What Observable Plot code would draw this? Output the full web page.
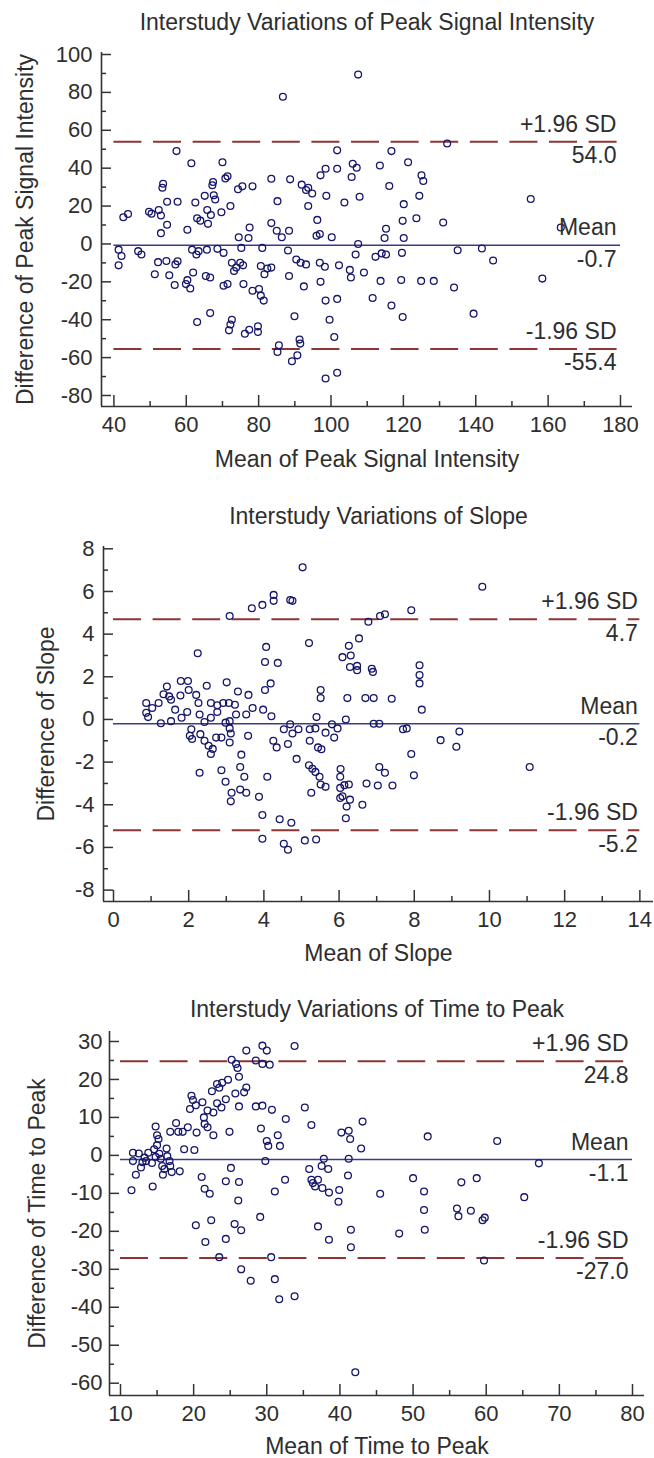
<!DOCTYPE html>
<html><head><meta charset="utf-8">
<script src="https://cdn.jsdelivr.net/npm/d3@7"></script>
<script src="https://cdn.jsdelivr.net/npm/@observablehq/plot@0.6"></script>
<style>
body{margin:0;background:#fff;}
#wrap{position:relative;width:654px;height:1458px;background:#fff;overflow:hidden;}
#wrap svg{position:absolute;left:0;}
</style></head><body><div id="wrap"></div>
<script>
// ---------- Panel 1: Peak Signal Intensity  [mean, difference] ----------
const psiTitle = "Interstudy Variations of Peak Signal Intensity";
const psiXLabel = "Mean of Peak Signal Intensity";
const psiYLabel = "Difference of Peak Signal Intensity";
const psiStats = [54.0, -0.7, -55.4];
const psiXTicks = [40, 60, 80, 100, 120, 140, 160, 180];
const psiYTicks = [-80, -60, -40, -20, 0, 20, 40, 60, 80, 100];
const psiPoints = [
[86.7,77.7],[107.5,89.4],[57.3,49.0],[101.7,49.4],[116.7,49.0],[132.1,53.0],
[61.4,42.6],[70.0,43.1],[121.3,43.1],[106.0,42.3],[107.1,40.2],[98.5,39.7],[101.7,39.7],[113.5,41.4],
[97.1,36.2],[105.7,35.3],[125.0,36.2],[125.5,33.2],[116.1,30.6],[83.5,34.4],[88.7,34.1],[91.9,31.3],
[93.7,29.7],[93.1,28.5],[94.8,26.6],[53.6,31.8],[53.4,29.7],[67.4,32.7],[67.2,31.0],[71.4,35.7],
[70.8,34.6],[75.5,30.4],[74.3,28.9],[78.3,30.4],[65.1,25.4],[67.6,25.7],[68.0,23.5],[98.7,25.4],
[107.9,24.9],[124.4,25.4],[155.2,23.7],[93.7,20.0],[103.7,21.9],[85.2,22.6],[120.1,21.0],[54.7,22.3],
[57.6,22.3],[62.5,21.9],[72.2,20.0],[49.7,17.0],[52.4,17.9],[53.0,15.0],[50.4,16.0],[43.9,15.8],
[42.6,14.1],[65.8,17.9],[66.8,15.3],[69.7,16.7],[63.0,13.6],[63.9,12.3],[66.0,10.6],[54.7,10.1],
[53.0,5.7],[60.3,7.5],[96.2,12.7],[131.0,11.3],[119.8,12.2],[123.6,13.6],[83.5,11.0],[85.0,7.0],
[88.4,7.0],[77.5,8.7],[115.2,8.0],[96.0,4.3],[96.9,5.2],[100.2,3.5],[74.5,3.5],[77.2,3.1],[86.4,3.5],
[114.8,3.1],[120.1,3.1],[163.5,8.7],[107.5,0.0],
[41.3,-3.0],[42.1,-6.4],[41.3,-11.3],[46.7,-3.8],[47.6,-5.6],[52.2,-9.6],[54.5,-9.0],[51.3,-16.0],
[55.3,-16.5],[57.0,-10.8],[57.6,-9.1],[56.8,-21.7],[59.9,-21.2],[61.1,-23.5],[60.3,-19.1],[61.9,-15.1],
[61.6,-3.0],[62.8,-5.6],[63.4,-3.8],[65.7,-3.0],[68.6,-2.6],[65.4,-16.9],[66.6,-17.7],[70.3,-4.7],
[70.3,-22.1],[71.4,-21.2],[72.6,-9.9],[73.2,-14.3],[73.8,-12.5],[75.2,-2.1],[75.7,-11.3],[74.9,-9.9],
[75.8,-21.2],[78.3,-24.7],[80.1,-23.8],[80.6,-27.3],[81.4,-29.9],[81.0,-2.1],[80.6,-11.7],[82.4,-13.0],
[81.6,-16.0],[83.5,-12.5],[88.1,-3.5],[88.4,-16.9],[90.4,-8.2],[91.6,-9.9],[93.1,-10.8],[92.5,-22.4],
[96.9,-9.9],[98.3,-12.0],[97.1,-20.0],[102.2,-11.3],[105.2,-13.7],[105.5,-17.7],[109.1,-15.1],[106.8,-5.6],
[98.5,-29.9],[101.7,-29.0],[111.5,-28.5],[116.7,-32.5],[112.3,-6.8],[114.0,-5.0],[115.2,-5.6],[119.6,-4.7],
[113.7,-19.5],[119.4,-19.0],[124.9,-19.5],[128.4,-19.5],[134.0,-23.0],[135.0,-3.3],[141.7,-2.4],[144.8,-8.7],
[158.4,-18.3],
[119.8,-38.6],[139.4,-36.8],[63.0,-41.2],[66.6,-36.5],[72.6,-40.0],[71.8,-45.6],[72.2,-42.5],[76.2,-47.4],
[77.4,-45.3],[79.8,-43.5],[79.8,-46.5],[89.9,-38.2],[99.6,-40.0],[100.9,-49.1],[91.3,-50.5],[91.5,-52.6],
[85.6,-53.5],[85.2,-57.0],[89.2,-61.9],[90.7,-58.8],[98.5,-71.0],[101.7,-68.0]
];

// ---------- Panel 2: Slope ----------
const slTitle = "Interstudy Variations of Slope";
const slXLabel = "Mean of Slope";
const slYLabel = "Difference of Slope";
const slStats = [4.7, -0.2, -5.2];
const slXTicks = [0, 2, 4, 6, 8, 10, 12, 14];
const slYTicks = [-8, -6, -4, -2, 0, 2, 4, 6, 8];
const slPoints = [
[5.03,7.13],[9.81,6.22],[3.09,4.85],[3.68,5.21],[3.96,5.37],[4.26,5.84],[4.26,5.56],[4.70,5.60],[4.76,5.56],
[7.92,5.12],[6.78,4.58],[7.09,4.85],[7.22,4.93],
[2.24,3.10],[4.06,3.40],[5.20,3.58],[6.26,3.45],[6.53,3.80],[6.09,2.92],[6.31,3.00],[4.03,2.69],[4.37,2.65],
[6.29,2.46],[6.48,2.51],[6.48,2.31],[6.87,2.38],[6.90,2.23],[8.14,2.54],[8.14,2.08],[8.14,1.69],[8.20,0.46],
[6.22,1.00],[6.70,1.00],[6.92,1.00],[7.40,0.97],[5.51,1.38],[5.51,1.00],[6.18,0.00],[5.40,0.11],[6.92,-0.20],
[7.07,-0.20],[7.70,-0.46],[7.80,-0.42],[8.70,-0.97],[9.20,-0.57],[9.12,-1.28],[7.92,-1.62],[7.99,-2.62],
[11.07,-2.23],[7.07,-2.23],[7.22,-2.50],
[0.87,0.31],[0.92,0.11],[0.87,0.77],[1.03,0.54],[1.20,0.77],[1.42,1.54],[1.33,1.18],[1.48,1.08],[1.53,0.92],
[1.26,-0.18],[1.53,-0.08],[1.78,1.12],[1.64,0.46],[1.79,1.80],[1.98,1.80],[2.00,1.38],[1.81,0.08],[1.96,0.35],
[2.20,1.15],[2.26,0.77],[2.48,1.58],[2.29,0.23],[2.42,-0.12],[2.07,-0.46],[2.03,-0.77],[2.09,-0.92],[2.31,-0.69],
[2.42,-1.00],[2.53,-1.23],[2.59,-1.62],[2.64,-1.38],[2.73,-0.85],[2.87,-0.85],[2.59,0.77],[2.76,0.66],[2.92,0.77],
[3.07,0.77],[3.23,0.69],[2.59,0.08],[2.76,0.35],[3.01,1.74],[2.98,-0.15],[3.09,-0.08],[3.09,-0.42],[3.12,-0.66],
[3.09,-1.08],[3.26,0.23],[3.31,1.31],[3.59,1.15],[3.58,-0.77],[3.40,-1.65],[3.37,-2.23],[3.48,-2.69],[2.87,-2.38],
[2.29,-2.50],[2.98,-2.92],[3.53,0.23],[3.70,0.54],[3.98,0.46],[4.20,0.15],[4.18,1.69],[4.03,1.38],[4.25,-1.00],
[4.34,-1.31],[4.09,-2.69],[4.53,-0.46],[4.70,-0.23],[4.76,-0.66],[4.64,-1.15],[4.87,-1.85],[4.92,-0.46],[5.22,-0.46],
[5.22,-1.00],[5.37,-0.42],[5.20,-2.15],[5.29,-2.31],[5.37,-2.46],[5.48,-2.69],[5.44,-1.31],[5.53,-1.40],[5.64,-0.62],
[5.81,-0.23],[5.87,-0.85],[5.96,-0.42],[6.04,-2.32],[6.03,-2.69],[5.51,-3.05],[6.14,-3.08],[6.73,-3.00],[7.03,-3.10],
[7.42,-3.10],
[3.14,-3.44],[3.12,-3.84],[3.37,-3.29],[3.53,-3.44],[3.87,-3.63],[3.96,-4.48],[3.96,-5.59],[4.42,-4.68],[4.73,-4.84],
[4.53,-5.83],[4.64,-6.11],[5.09,-5.67],[5.39,-5.63],[5.26,-3.44],[5.64,-3.16],[6.03,-3.21],[6.09,-3.60],[6.03,-3.68],
[6.26,-3.05],[6.29,-3.76],[6.20,-4.08],[6.18,-4.63],[6.62,-4.00]
];

// ---------- Panel 3: Time to Peak ----------
const ttpTitle = "Interstudy Variations of Time to Peak";
const ttpXLabel = "Mean of Time to Peak";
const ttpYLabel = "Difference of Time to Peak";
const ttpStats = [24.8, -1.1, -27.0];
const ttpXTicks = [10, 20, 30, 40, 50, 60, 70, 80];
const ttpYTicks = [-60, -50, -40, -30, -20, -10, 0, 10, 20, 30];
const ttpPoints = [
[33.8,28.8],[29.4,28.9],[30.0,27.6],[27.2,27.6],[25.2,25.2],[25.8,24.1],[26.0,23.0],[28.5,25.0],[29.4,24.1],
[30.4,23.9],[26.2,20.7],[24.7,19.9],[23.9,19.1],[23.2,18.8],[23.5,17.8],[22.5,16.9],[27.2,17.9],[26.9,16.6],
[25.7,16.3],[19.7,15.7],[19.9,14.6],[21.2,14.0],[19.5,12.2],[20.3,13.2],[23.2,13.7],[24.4,14.8],[23.8,12.6],
[22.7,11.3],[21.9,11.8],[26.2,12.9],[28.5,12.9],[29.4,13.1],[30.7,12.0],[35.2,12.6],[21.4,10.0],[32.6,9.6],
[36.1,8.0],[43.1,8.9],[14.8,7.6],[17.6,8.5],[19.2,7.4],
[21.5,8.3],[21.9,7.4],[22.7,5.3],[18.5,6.2],[16.8,6.2],[17.9,6.2],[20.4,6.0],[15.0,5.3],[15.2,4.3],[24.9,6.2],
[29.2,7.1],[31.5,5.3],[30.0,3.8],[30.2,2.5],[31.8,2.5],[40.2,6.0],[41.4,4.3],[41.2,6.5],[42.9,1.8],[52.0,5.0],
[61.5,3.8],[67.2,-2.1],[18.7,1.6],[20.1,1.4],
[11.7,0.7],[11.7,-1.5],[12.1,-5.1],[11.5,-9.2],[12.5,0.5],[13.0,-1.8],[13.8,0.7],[13.5,-1.5],[14.6,1.6],[15.0,2.7],
[15.3,0.4],[14.8,-0.4],[15.5,-0.9],[15.7,-2.8],[15.8,-5.1],[16.3,1.8],[16.4,-0.2],[16.7,-1.5],[16.8,-2.8],[17.0,-4.4],
[18.1,-4.2],[14.4,-8.2],[13.3,-0.6],[14.3,-2.0],[12.8,-3.2],[16.0,-3.6],
[21.1,-5.7],[21.5,-8.8],[22.2,-10.1],[25.1,-3.3],[24.4,-6.8],[26.2,-7.0],[26.1,-11.9],[20.3,-18.4],[22.4,-17.1],
[21.6,-22.8],[24.4,-22.0],[25.6,-18.1],[26.5,-19.7],[29.1,-16.2],[29.8,-1.5],[31.1,-9.5],[32.5,-6.4],[35.8,-3.6],
[37.8,-0.9],[37.5,-2.8],[38.4,-3.6],[36.1,-6.4],[36.3,-7.3],[36.6,-8.2],[37.0,-6.4],[37.6,-8.6],[38.5,-9.8],
[39.9,-9.1],[39.8,-12.2],[41.2,-0.9],[41.1,-5.3],[37.0,-18.7],[38.5,-22.2],[41.5,-19.6],[41.5,-24.2],[45.5,-10.1],
[48.1,-20.6],[50.0,-6.0],[51.5,-9.5],[51.5,-14.4],[51.6,-19.6],[56.6,-7.1],[58.7,-6.0],[56.0,-14.0],[56.2,-16.0],
[57.9,-14.6],[59.5,-17.1],[59.8,-16.4],[65.2,-11.0],[23.5,-26.8],[30.6,-26.8],[59.7,-27.7],
[26.5,-30.0],[27.8,-33.0],[31.1,-32.6],[31.7,-37.9],[33.8,-37.1],[42.1,-57.1]
];

const statNames = ["+1.96 SD", "Mean", "-1.96 SD"];

const FONT = "'Liberation Sans', Arial, sans-serif";
const TXT = "#2e2e2e";
const AXIS = "#333333";
const DOT = "#16166a";
const MEANC = "#3a3a8c";
const DASHC = "#8e3434";
const TICKFS = 22, LABFS = 23;

function minorTicks(t) {
  const out = [];
  for (let i = 0; i < t.length - 1; i++) out.push((t[i] + t[i + 1]) / 2);
  return out;
}

function panel(c) {
  const W = 654;
  const fw = W - c.ml - c.mr, fh = c.h - c.mt - c.mb;
  const pts = c.points.map(([x, y]) => ({x, y}));
  const x0 = c.xTicks[0], x1 = c.xTicks[c.xTicks.length - 1];
  const stats = statNames.map((n, i) => ({name: n, v: c.stats[i]}));
  const fmt = d => String(d);
  const svg = Plot.plot({
    width: W, height: c.h,
    marginTop: c.mt, marginBottom: c.mb, marginLeft: c.ml, marginRight: c.mr,
    style: {fontFamily: FONT, fontSize: TICKFS + "px", color: TXT, background: "white", overflow: "visible"},
    x: {domain: c.xDomain},
    y: {domain: c.yDomain},
    marks: [
      Plot.axisX(c.xTicks, {tickSize: 0, tickPadding: 10, label: null, tickFormat: fmt, fontSize: TICKFS, fill: TXT}),
      Plot.axisY(c.yTicks, {tickSize: 0, tickPadding: c.ytp, label: null, tickFormat: fmt, fontSize: TICKFS, fill: TXT}),
      Plot.tickY(c.yTicks, {y: d => d, insetRight: fw - 10, stroke: AXIS, strokeWidth: 1.5}),
      Plot.tickY(minorTicks(c.yTicks), {y: d => d, insetRight: fw - 5, stroke: AXIS, strokeWidth: 1.5}),
      Plot.tickX(c.xTicks, {x: d => d, insetTop: fh - 11, stroke: AXIS, strokeWidth: 1.5}),
      Plot.tickX(minorTicks(c.xTicks), {x: d => d, insetTop: fh - 5, stroke: AXIS, strokeWidth: 1.5}),
      Plot.ruleX([c.xDomain[0]], {stroke: AXIS, strokeWidth: 1.6}),
      Plot.ruleY([c.yDomain[0]], {stroke: AXIS, strokeWidth: 1.6}),
      Plot.ruleY([c.stats[0], c.stats[2]], {x1: x0, x2: x1, stroke: DASHC, strokeWidth: 2, strokeDasharray: "28,11.6"}),
      Plot.ruleY([c.stats[1]], {x1: x0, x2: x1, stroke: MEANC, strokeWidth: 1.5}),
      Plot.dot(pts, {x: "x", y: "y", r: 3.4, stroke: DOT, strokeWidth: 1.3, fill: "none"}),
      Plot.text(stats, {x: () => x1, y: "v", text: "name", textAnchor: "end", lineAnchor: "bottom", dx: c.ldx, dy: -10, fontSize: LABFS, fill: TXT}),
      Plot.text(stats, {x: () => x1, y: "v", text: d => d.v.toFixed(1), textAnchor: "end", lineAnchor: "top", dx: c.ldx, dy: 5, fontSize: LABFS, fill: TXT}),
      Plot.text([c.title], {text: d => d, frameAnchor: "top", textAnchor: "middle", lineAnchor: "middle", dy: c.tdy, fontSize: LABFS, fill: TXT}),
      Plot.text([c.xLabel], {text: d => d, frameAnchor: "bottom", textAnchor: "middle", lineAnchor: "middle", dy: c.xldy, fontSize: LABFS, fill: TXT}),
      Plot.text([c.yLabel], {text: d => d, frameAnchor: "left", textAnchor: "middle", lineAnchor: "middle", rotate: -90, dx: c.yldx, fontSize: LABFS, fill: TXT})
    ]
  });
  svg.style.top = c.top + "px";
  return svg;
}

const wrap = document.getElementById("wrap");
wrap.appendChild(panel({
  top: 0, h: 480, mt: 52, mb: 74, ml: 101, mr: 22,
  xDomain: [36.57, 183.32], yDomain: [-85.81, 101.06],
  xTicks: psiXTicks, yTicks: psiYTicks, points: psiPoints, stats: psiStats,
  title: psiTitle, xLabel: psiXLabel, yLabel: psiYLabel,
  tdy: -29.5, xldy: 53, yldx: -76, ldx: -4, ytp: 9
}));
wrap.appendChild(panel({
  top: 480, h: 490, mt: 66, mb: 69, ml: 103, mr: 1,
  xDomain: [-0.266, 14.363], yDomain: [-8.535, 8.108],
  xTicks: slXTicks, yTicks: slYTicks, points: slPoints, stats: slStats,
  title: slTitle, xLabel: slXLabel, yLabel: slYLabel,
  tdy: -30, xldy: 52, yldx: -57, ldx: -2, ytp: 9
}));
wrap.appendChild(panel({
  top: 970, h: 488, mt: 61, mb: 63, ml: 109, mr: 10,
  xDomain: [8.496, 81.64], yDomain: [-63.24, 32.63],
  xTicks: ttpXTicks, yTicks: ttpYTicks, points: ttpPoints, stats: ttpStats,
  title: ttpTitle, xLabel: ttpXLabel, yLabel: ttpYLabel,
  tdy: -21.5, xldy: 51, yldx: -72, ldx: -4, ytp: 7
}));
</script>
</body></html>
